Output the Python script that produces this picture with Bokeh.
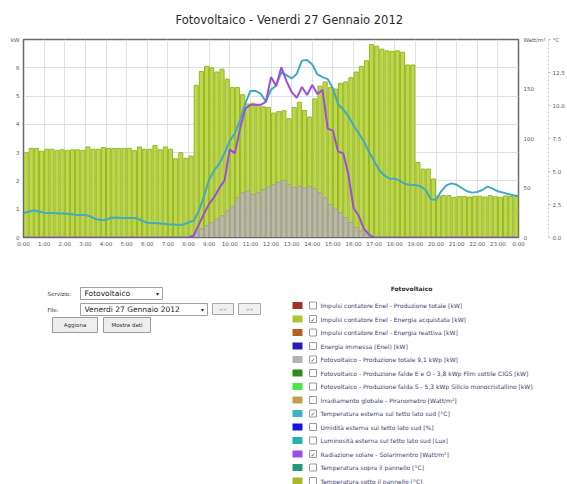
from bokeh.plotting import figure
from bokeh.models import Range1d, LinearAxis, FixedTicker
from bokeh.layouts import column
from bokeh.embed import file_html
from bokeh.resources import INLINE
from bokeh.core.properties import value

# ---------------- data ----------------
title_text = "Fotovoltaico - Venerdi 27 Gennaio 2012"
hour_ticks = list(range(25))
hour_labels = [f"{h % 24}:00" for h in hour_ticks]
kw_ticks = [0, 1, 2, 3, 4, 5, 6, 7]
kw_labels = ["0", "1", "2", "3", "4", "5", "6", "kW"]
rad_ticks = [0, 50, 100, 150, 200]
rad_labels = ["0", "50", "100", "150", "Watt/m²"]
temp_ticks = [0, 2.5, 5, 7.5, 10, 12.5, 15]
temp_labels = ["0.0", "2.5", "5.0", "7.5", "10.0", "12.5", "°C"]

# 15-minute slots, 0:00 .. 23:45  (kW)
energia_acquistata = [
    3.00, 3.15, 3.15, 3.05, 3.12, 3.12, 3.08, 3.10,
    3.08, 3.10, 3.10, 3.08, 3.20, 3.12, 3.12, 3.18,
    3.15, 3.15, 3.15, 3.15, 3.15, 3.07, 3.20, 3.12,
    3.12, 3.25, 3.10, 3.20, 3.12, 2.78, 3.00, 2.80,
    2.88, 5.38, 5.87, 6.05, 6.00, 5.85, 5.95, 5.60,
    5.30, 5.30, 5.05, 4.72, 4.75, 4.70, 4.62, 4.60,
    4.40, 4.45, 4.48, 4.20, 4.60, 4.78, 4.49, 4.26,
    4.90, 5.35, 5.50, 5.30, 5.25, 5.45, 5.50, 5.65,
    5.85, 6.05, 6.25, 6.82, 6.76, 6.66, 6.60, 6.58,
    6.60, 6.55, 6.10, 6.10, 2.65, 2.42, 2.42, 2.07,
    1.47, 1.48, 1.48, 1.42, 1.45, 1.45, 1.43, 1.46,
    1.46, 1.43, 1.48, 1.44, 1.42, 1.47, 1.45, 1.45,
]
produzione_totale = [
    0, 0, 0, 0, 0, 0, 0, 0,
    0, 0, 0, 0, 0, 0, 0, 0,
    0, 0, 0, 0, 0, 0, 0, 0,
    0, 0, 0, 0, 0, 0, 0, 0,
    0, 0.20, 0.30, 0.42, 0.53, 0.65, 0.77, 0.94,
    1.10, 1.40, 1.58, 1.64, 1.52, 1.58, 1.70, 1.78,
    1.87, 1.95, 2.02, 1.88, 1.76, 1.81, 1.76, 1.81,
    1.73, 1.58, 1.40, 1.17, 1.00, 0.88, 0.70, 0.53,
    0.36, 0.24, 0.13, 0.03, 0, 0, 0, 0,
    0, 0, 0, 0, 0, 0, 0, 0,
    0, 0, 0, 0, 0, 0, 0, 0,
    0, 0, 0, 0, 0, 0, 0, 0,
]
# readings every 15 minutes, 0:00 .. 24:00
temperatura = [
    1.85, 1.95, 2.07, 1.97, 1.87, 1.85, 1.85, 1.82,
    1.82, 1.78, 1.72, 1.70, 1.70, 1.60, 1.40, 1.33,
    1.35, 1.50, 1.52, 1.47, 1.47, 1.47, 1.45, 1.27,
    1.12, 1.10, 1.08, 1.05, 1.00, 0.98, 0.95, 0.98,
    1.15, 1.27, 2.00, 3.10, 4.40, 5.10, 5.60, 6.40,
    7.30, 7.90, 8.90, 10.15, 11.10, 11.10, 10.90, 10.30,
    11.20, 11.50, 12.50, 12.30, 12.05, 12.40, 13.40, 13.45,
    13.10, 12.35, 12.15, 12.00, 11.30, 10.10, 9.70, 9.20,
    8.50, 7.90, 7.30, 6.50, 5.80, 5.10, 4.70, 4.45,
    4.45, 4.30, 4.05, 4.00, 3.97, 3.88, 3.60, 2.90,
    2.85, 3.50, 3.95, 4.10, 4.00, 3.75, 3.50, 3.40,
    3.45, 3.60, 3.85, 3.70, 3.50, 3.40, 3.30, 3.20,
    3.15,
]
radiazione = [
    0, 0, 0, 0, 0, 0, 0, 0,
    0, 0, 0, 0, 0, 0, 0, 0,
    0, 0, 0, 0, 0, 0, 0, 0,
    0, 0, 0, 0, 0, 0, 0, 0,
    0, 2, 13, 24, 34, 41, 50, 58,
    89, 85, 110, 130, 134, 134, 134, 137,
    162, 153, 172, 158, 147, 141, 152, 144,
    154, 145, 149, 110, 108, 87, 85, 64,
    30, 22, 9, 3, 0, 0, 0, 0,
    0, 0, 0, 0, 0, 0, 0, 0,
    0, 0, 0, 0, 0, 0, 0, 0,
    0, 0, 0, 0, 0, 0, 0, 0,
    0,
]

legend_title = "Fotovoltaico"
legend_labels = [
    "Impulsi contatore Enel - Produzione totale [kW]",
    "Impulsi contatore Enel - Energia acquistata [kW]",
    "Impulsi contatore Enel - Energia reattiva [kW]",
    "Energia immessa (Enel) [kW]",
    "Fotovoltaico - Produzione totale 9,1 kWp [kW]",
    "Fotovoltaico - Produzione falde E e O - 3,8 kWp Film sottile CIGS [kW]",
    "Fotovoltaico - Produzione falda S - 5,3 kWp Silicio monocristallino [kW]",
    "Irradiamento globale - Piranometro [Watt/m²]",
    "Temperatura esterna sul tetto lato sud [°C]",
    "Umidità esterna sul tetto lato sud [%]",
    "Luminosità esterna sul tetto lato sud [Lux]",
    "Radiazione solare - Solarimentro [Watt/m²]",
    "Temperatura sopra il pannello [°C]",
    "Temperatura sotto il pannello [°C]",
]
legend_checked = [False, True, False, False, True, False, False, False,
                  True, False, False, True, False, False]
servizio_value = "Fotovoltaico"
file_value = "Venerdi 27 Gennaio 2012"

# ---------------- styles ----------------
legend_colors = ["#9e3326", "#a9c62a", "#b3621f", "#2b1bb0", "#b3b3b3", "#2e8b1f",
                 "#4be44b", "#bfa048", "#3fb0c8", "#1515e0", "#26b0b0", "#9b4de0",
                 "#22977a", "#a9b828"]
FONT = value("DejaVu Sans")
GREEN_FILL, GREEN_LINE = "#bdd64b", "#97b823"
GRAY_FILL, GRAY_LINE = "#b9b9a6", "#a2a290"
CYAN, PURPLE = "#44a9c4", "#9c4fdc"

PAGE_W, CHART_H, PAGE_H = 567, 251, 484
FL, FR = 23, 518.7   # chart frame edges (page px)

# ---------------- chart ----------------
slot = 0.25
bar_x = [i * slot + slot / 2 for i in range(len(energia_acquistata))]
line_x = [i * slot for i in range(len(temperatura))]

p = figure(width=PAGE_W, height=CHART_H, x_range=Range1d(0, 24), y_range=Range1d(0, 7),
           toolbar_location=None, output_backend="svg",
           min_border_left=23, min_border_right=48, min_border_top=37, min_border_bottom=14)
p.extra_y_ranges = {"rad": Range1d(0, 200), "temp": Range1d(0, 15)}

p.title.text = title_text
p.title.text_font = "DejaVu Sans"
p.title.text_font_size = "11.5px"
p.title.text_font_style = "normal"
p.title.text_color = "#2a2a2a"
p.title.align = "left"
p.title.offset = 152
p.title.standoff = 23
p.title.vertical_align = "middle"

p.outline_line_color = "#6a6a6a"
p.outline_line_width = 1.5
p.background_fill_color = "white"
p.border_fill_color = "white"

p.xgrid.ticker = FixedTicker(ticks=hour_ticks)
p.ygrid.ticker = FixedTicker(ticks=kw_ticks)
p.grid.grid_line_color = "#e0e0e0"
p.grid.grid_line_width = 1

xa = p.xaxis[0]
xa.ticker = FixedTicker(ticks=hour_ticks)
xa.major_label_overrides = {t: l for t, l in zip(hour_ticks, hour_labels)}
ya = p.yaxis[0]
ya.ticker = FixedTicker(ticks=kw_ticks)
ya.major_label_overrides = {t: l for t, l in zip(kw_ticks, kw_labels)}

ax_rad = LinearAxis(y_range_name="rad", ticker=FixedTicker(ticks=rad_ticks),
                    major_label_overrides={t: l for t, l in zip(rad_ticks, rad_labels)})
ax_temp = LinearAxis(y_range_name="temp", ticker=FixedTicker(ticks=temp_ticks),
                     major_label_overrides={t: l for t, l in zip(temp_ticks, temp_labels)})
p.add_layout(ax_rad, "right")
p.add_layout(ax_temp, "right")

for ax in [xa, ya, ax_rad, ax_temp]:
    ax.major_tick_out = 0
    ax.major_tick_in = 0
    ax.minor_tick_out = 0
    ax.minor_tick_in = 0
    ax.major_label_text_font = "DejaVu Sans"
    ax.major_label_text_font_size = "5.5px"
    ax.major_label_text_color = "#555555"
    ax.major_label_standoff = 3
    ax.axis_line_color = "#6a6a6a"
ya.major_label_standoff = 4
ax_rad.axis_line_color = None
ax_rad.major_label_standoff = 5
ax_temp.axis_line_color = "#d0d0d0"
ax_temp.axis_line_dash = "2 2"
ax_temp.major_tick_out = 2
ax_temp.major_tick_line_color = "#bbbbbb"
ax_temp.major_label_standoff = 2

p.vbar(x=bar_x, top=energia_acquistata, width=0.2, bottom=0,
       fill_color=GREEN_FILL, line_color=GREEN_LINE, line_width=1)
gx = [x for x, v in zip(bar_x, produzione_totale) if v > 0]
gv = [v for v in produzione_totale if v > 0]
p.vbar(x=gx, top=gv, width=0.2, bottom=0,
       fill_color=GRAY_FILL, line_color=GRAY_LINE, line_width=1)
p.line(line_x, temperatura, y_range_name="temp", line_color=CYAN, line_width=2)
p.line(line_x, radiazione, y_range_name="rad", line_color=PURPLE, line_width=2)

# ---------------- form + legend panel (page coordinates) ----------------
PH = PAGE_H - CHART_H
q = figure(width=PAGE_W, height=PH, toolbar_location=None, output_backend="svg",
           min_border=0, x_axis_type=None, y_axis_type=None)
has_fa = "frame_align" in q.properties()
if has_fa:
    p.frame_align = False
    q.frame_align = False
    q.x_range = Range1d(0, PAGE_W)
else:
    q.x_range = Range1d(FL, FR)
q.y_range = Range1d(PAGE_H, CHART_H)
q.outline_line_color = None
q.grid.visible = False

# labels
q.text(x=[47, 47], y=[293, 309], text=["Servizio:", "File:"], text_font=FONT,
       text_font_size="5.5px", text_color="#333333", text_baseline="middle")
# dropdowns
q.quad(left=[80, 80], right=[162, 207], top=[287, 303], bottom=[299, 315],
       fill_color="white", line_color="#a0a0a0", line_width=1)
q.text(x=[84, 84], y=[293, 309], text=[servizio_value, file_value], text_font=FONT,
       text_font_size="7.5px", text_color="#222222", text_baseline="middle")
q.text(x=[157, 202], y=[293, 309], text=["▾", "▾"], text_font=FONT,
       text_font_size="6px", text_color="#333333", text_baseline="middle", text_align="center")
# small buttons
q.quad(left=[212, 238], right=[233, 260], top=[303, 303], bottom=[314, 314],
       fill_color="#f0f0f0", line_color="#a8a8a8", line_width=1)
q.text(x=[222.5, 249], y=[308.5, 308.5], text=["<<", ">>"], text_font=FONT,
       text_font_size="4.5px", text_color="#666666", text_baseline="middle", text_align="center")
# big buttons
q.quad(left=[52, 103], right=[97, 150], top=[317, 317], bottom=[332, 332],
       fill_color="#eeeeee", line_color="#9a9a9a", line_width=1)
q.text(x=[74.5, 126.5], y=[324.5, 324.5], text=["Aggiona", "Mostra dati"], text_font=FONT,
       text_font_size="5.5px", text_color="#333333", text_baseline="middle", text_align="center")

# legend
q.text(x=[411], y=[288], text=[legend_title], text_font=FONT, text_font_size="6px",
       text_font_style="bold", text_color="#333333", text_baseline="middle", text_align="center")
row_y = [305 + 13.5 * i for i in range(len(legend_labels))]
q.quad(left=[292] * len(row_y), right=[302] * len(row_y),
       top=[y - 3.5 for y in row_y], bottom=[y + 3.5 for y in row_y],
       fill_color=legend_colors, line_color=None)
q.quad(left=[309] * len(row_y), right=[316] * len(row_y),
       top=[y - 3.5 for y in row_y], bottom=[y + 3.5 for y in row_y],
       fill_color="white", line_color="#9a9a9a", line_width=1)
cy = [y for y, c in zip(row_y, legend_checked) if c]
q.text(x=[312.5] * len(cy), y=cy, text=["✓"] * len(cy), text_font=FONT,
       text_font_size="6px", text_color="#444444", text_baseline="middle", text_align="center")
q.text(x=[320] * len(row_y), y=row_y, text=legend_labels, text_font=FONT,
       text_font_size="6px", text_color="#3c3c6c", text_baseline="middle")

layout = column(p, q, spacing=0)
open("out.html", "w").write(file_html(layout, INLINE))
